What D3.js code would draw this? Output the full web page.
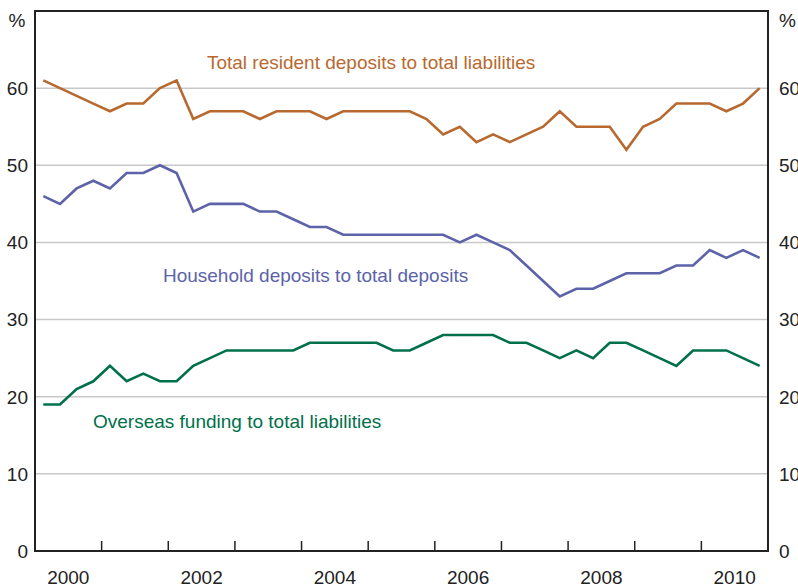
<!DOCTYPE html>
<html>
<head>
<meta charset="utf-8">
<script src="https://cdn.jsdelivr.net/npm/d3@7"></script>
<style>
  body { margin: 0; background: #fff; }
  text { font-family: "Liberation Sans", Arial, sans-serif; }
</style>
</head>
<body>
<div class="graphbox"></div>
<script>
// quarterly, 2000 Q1 .. 2010 Q4
var firstYear = 2000
var nQuarters = 44
var quarters = d3.range(nQuarters).map(function(i) { return firstYear + Math.floor(i/4) + (i%4)/4 + 0.125; })

var residentDep = [61,60,59,58,57,58,58,60,61,56,57,57,57,56,57,57,57,56,57,57,57,57,57,56,54,55,53,54,53,54,55,57,55,55,55,52,55,56,58,58,58,57,58,60]
var householdDep = [46,45,47,48,47,49,49,50,49,44,45,45,45,44,44,43,42,42,41,41,41,41,41,41,41,40,41,40,39,37,35,33,34,34,35,36,36,36,37,37,39,38,39,38]
var overseasFund = [19,19,21,22,24,22,23,22,22,24,25,26,26,26,26,26,27,27,27,27,27,26,26,27,28,28,28,28,27,27,26,25,26,25,27,27,26,25,24,26,26,26,25,24]

var yTicks = [0,10,20,30,40,50,60]
var yearTicks = [2001,2002,2003,2004,2005,2006,2007,2008,2009,2010]
var yearLabels = [2000,2002,2004,2006,2008,2010]

var svgWidth = 798;
var svgHeight = 586;
var padL = 35, padR = 768, padT = 11, padB = 551;
var fs = "19px";

var x = d3.scaleLinear().domain([2000, 2011]).range([padL, padR]);
var y = d3.scaleLinear().domain([0, 70]).range([padB, padT]);

var mysvg = d3.select(".graphbox")
  .append("svg")
  .attr("width", svgWidth)
  .attr("height", svgHeight)
 ;

// gridlines
mysvg.selectAll("line.grid")
  .data(yTicks.filter(function(d) { return d > 0; }))
  .enter()
  .append("line")
  .attr("class","grid")
  .attr("x1", padL)
  .attr("x2", padR)
  .attr("y1", function(d) { return y(d); })
  .attr("y2", function(d) { return y(d); })
  .attr("stroke","#c8c8c8")
  .attr("stroke-width", 1.5)
 ;

// year ticks on bottom axis
mysvg.selectAll("line.ytick")
  .data(yearTicks)
  .enter()
  .append("line")
  .attr("class","ytick")
  .attr("x1", function(d) { return x(d); })
  .attr("x2", function(d) { return x(d); })
  .attr("y1", padB)
  .attr("y2", padB - 10)
  .attr("stroke","#222")
  .attr("stroke-width", 1.5)
 ;

var series = [
  {data: residentDep, col: "#b8692f"},
  {data: householdDep, col: "#5c63a8"},
  {data: overseasFund, col: "#00704a"}
];

var line = d3.line()
  .x(function(d, i) { return x(quarters[i]); })
  .y(function(d) { return y(d); });

mysvg.selectAll("path.series")
  .data(series)
  .enter()
  .append("path")
  .attr("class","series")
  .attr("d", function(s) { return line(s.data); })
  .attr("fill","none")
  .attr("stroke", function(s) { return s.col; })
  .attr("stroke-width", 2.6)
  .attr("stroke-linejoin","miter")
 ;

// frame
mysvg.append("rect")
  .attr("x", padL)
  .attr("y", padT)
  .attr("width", padR - padL)
  .attr("height", padB - padT)
  .attr("fill","none")
  .attr("stroke","#222")
  .attr("stroke-width", 2)
 ;

// y labels both sides
mysvg.selectAll("text.yl")
  .data(yTicks)
  .enter()
  .append("text")
  .attr("class","yl")
  .attr("x", padL - 7)
  .attr("y", function(d) { return y(d); })
  .attr("dy","0.36em")
  .attr("text-anchor","end")
  .attr("font-size", fs)
  .attr("fill","#222")
  .text(function(d) { return d; })
 ;

mysvg.selectAll("text.yr")
  .data(yTicks)
  .enter()
  .append("text")
  .attr("class","yr")
  .attr("x", padR + 11)
  .attr("y", function(d) { return y(d); })
  .attr("dy","0.36em")
  .attr("text-anchor","start")
  .attr("font-size", fs)
  .attr("fill","#222")
  .text(function(d) { return d; })
 ;

mysvg.append("text")
  .attr("x", 17).attr("y", y(70) + 9)
  .attr("dy","0.36em")
  .attr("text-anchor","middle")
  .attr("font-size", fs)
  .attr("fill","#222")
  .text("%");

mysvg.append("text")
  .attr("x", padR + 11).attr("y", y(70) + 9)
  .attr("dy","0.36em")
  .attr("font-size", fs)
  .attr("fill","#222")
  .text("%");

// year labels, centred in the year
mysvg.selectAll("text.xl")
  .data(yearLabels)
  .enter()
  .append("text")
  .attr("class","xl")
  .attr("x", function(d) { return x(d + 0.5); })
  .attr("y", padB + 26)
  .attr("dy","0.36em")
  .attr("text-anchor","middle")
  .attr("font-size", fs)
  .attr("fill","#222")
  .text(function(d) { return d; })
 ;

// series labels
var labs = [
  {t: "Total resident deposits to total liabilities", yr: 2002.58, v: 63.4, col: "#b8692f"},
  {t: "Household deposits to total deposits", yr: 2001.92, v: 35.7, col: "#5c63a8"},
  {t: "Overseas funding to total liabilities", yr: 2000.87, v: 16.8, col: "#00704a"}
];

mysvg.selectAll("text.slab")
  .data(labs)
  .enter()
  .append("text")
  .attr("class","slab")
  .attr("x", function(d) { return x(d.yr); })
  .attr("y", function(d) { return y(d.v); })
  .attr("dy","0.36em")
  .attr("font-size", fs)
  .attr("fill", function(d) { return d.col; })
  .text(function(d) { return d.t; })
 ;
</script>
</body>
</html>
